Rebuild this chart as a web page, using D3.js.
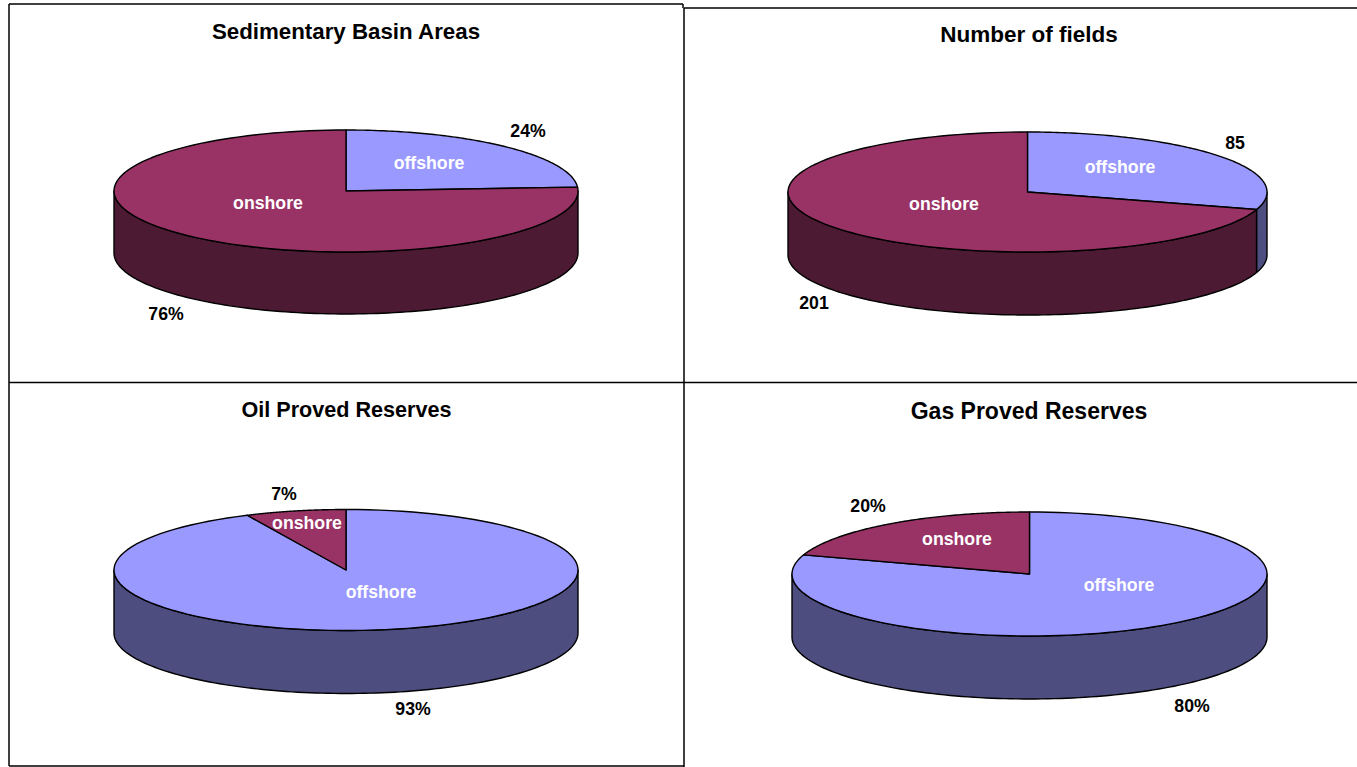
<!DOCTYPE html>
<html><head><meta charset="utf-8">
<script src="https://cdnjs.cloudflare.com/ajax/libs/d3/7.8.5/d3.min.js"></script>
<style>html,body{margin:0;padding:0;background:#fff}svg{display:block}
text{font-family:"Liberation Sans",Arial,sans-serif;font-weight:700}</style>
</head><body><svg id="c" width="1357" height="767"></svg>
<script>
// ---- data ----
const titles = ["Sedimentary Basin Areas","Number of fields","Oil Proved Reserves","Gas Proved Reserves"];
const categoryOrders = [["offshore","onshore"],["offshore","onshore"],["offshore","onshore"],["offshore","onshore"]];
const offshoreValues = [24,85,93,80];
const onshoreValues = [76,201,7,20];
const valueLabels = [["24%","76%"],["85","201"],["93%","7%"],["80%","20%"]];
const topColors = {offshore:"#9999ff",onshore:"#993366"};
const sideColors = {offshore:"#4d4d80",onshore:"#4d1a33"};

// ---- layout ----
const panels = [
 {cx:346,cy:191,rx:232,ry:61,depth:62,tx:346,ty:39,tf:22.3,
  cat:{offshore:[83,-22],onshore:[-78,18]},val:[[182,-54.5],[-180,128.5]]},
 {cx:1027.5,cy:192,rx:239.5,ry:60,depth:63,tx:1029,ty:42,tf:22.5,
  cat:{offshore:[92.5,-19],onshore:[-83.5,18]},val:[[207.5,-43.5],[-213.5,116.5]]},
 {cx:346,cy:570,rx:232,ry:60.5,depth:63,tx:346.5,ty:416.5,tf:21.6,
  cat:{offshore:[35,27.5],onshore:[-39,-41.5]},val:[[67,144.5],[-62,-70.5]]},
 {cx:1029.5,cy:574,rx:237.5,ry:62,depth:63,tx:1029,ty:419,tf:23,
  cat:{offshore:[89.5,16.5],onshore:[-72.5,-29.5]},val:[[162.5,137.5],[-161.5,-62.5]]}
];
const svg = d3.select("#c");
const frame = [[9,4,683,4],[9,4,9,766],[9,766,684,766],[9,382.5,1357,382.5],[684,8,684,767],[684,8,1357,8],[683,4,683,8]];
svg.selectAll("line.f").data(frame).join("line").attr("class","f")
  .attr("x1",d=>d[0]).attr("y1",d=>d[1]).attr("x2",d=>d[2]).attr("y2",d=>d[3])
  .attr("stroke","#000").attr("stroke-width",1.5);

const pie = d3.pie().sort(null).value(d=>d.value).startAngle(0).endAngle(2*Math.PI);
const line = d3.line().x(d=>d[0]).y(d=>d[1]);

panels.forEach((p,i)=>{
  const g = svg.append("g");
  const sx = d3.scaleLinear().domain([-1,1]).range([p.cx-p.rx,p.cx+p.rx]);
  const sy = d3.scaleLinear().domain([-1,1]).range([p.cy+p.ry,p.cy-p.ry]);
  const pt = (a,dz=0)=>[sx(Math.sin(a)),sy(Math.cos(a))+dz];
  const arcPts = (a0,a1,dz=0)=>d3.range(0,121).map(k=>pt(a0+(a1-a0)*k/120,dz));
  const values = [offshoreValues[i],onshoreValues[i]];
  const rows = categoryOrders[i].map((c,j)=>({cat:c,value:values[j],label:valueLabels[i][j],j}));
  const arcs = pie(rows);

  // visible side walls: clockwise angle from the top, between PI/2 and 3PI/2
  arcs.forEach(a=>{
    const a0=Math.max(a.startAngle,Math.PI/2), a1=Math.min(a.endAngle,3*Math.PI/2);
    if(a1<=a0) return;
    const top=arcPts(a0,a1), bot=arcPts(a0,a1,p.depth).reverse();
    g.append("path").attr("d",line(top.concat(bot))+"Z")
     .attr("fill",sideColors[a.data.cat]).attr("stroke","#000").attr("stroke-width",1.4).attr("stroke-linejoin","round");
  });
  // top faces
  arcs.forEach(a=>{
    const pts=[[sx(0),sy(0)]].concat(arcPts(a.startAngle,a.endAngle));
    g.append("path").attr("d",line(pts)+"Z")
     .attr("fill",topColors[a.data.cat]).attr("stroke","#000").attr("stroke-width",1.4).attr("stroke-linejoin","round");
  });
  g.append("text").attr("x",p.tx).attr("y",p.ty).attr("text-anchor","middle")
    .attr("font-size",p.tf).attr("fill","#000").text(titles[i]);
  arcs.forEach(a=>{
    const c=p.cat[a.data.cat], v=p.val[a.data.j];
    g.append("text").attr("x",p.cx+c[0]).attr("y",p.cy+c[1]).attr("text-anchor","middle")
      .attr("font-size",17.7).attr("fill","#fff").text(a.data.cat);
    g.append("text").attr("x",p.cx+v[0]).attr("y",p.cy+v[1]).attr("text-anchor","middle")
      .attr("font-size",17.7).attr("fill","#000").text(a.data.label);
  });
});
</script></body></html>
